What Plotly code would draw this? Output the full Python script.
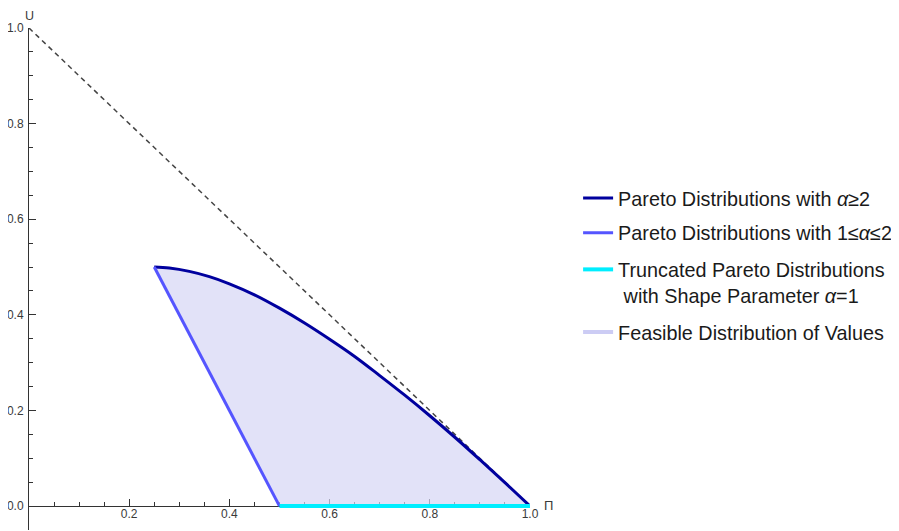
import plotly.graph_objects as go

# Pareto distributions with alpha >= 2
pareto_hi_x = [0.25, 0.28, 0.32, 0.36, 0.40, 0.45, 0.50, 0.55, 0.60, 0.65, 0.70, 0.75, 0.80, 0.85, 0.90, 0.95, 1.0]
pareto_hi_y = [0.500, 0.498, 0.491, 0.480, 0.465, 0.442, 0.414, 0.383, 0.349, 0.313, 0.273, 0.232, 0.189, 0.144, 0.097, 0.049, 0.0]

# Pareto distributions with 1 <= alpha <= 2
pareto_lo_x = [0.25, 0.5]
pareto_lo_y = [0.5, 0.0]

# Truncated Pareto, alpha = 1
trunc_x = [0.5, 1.0]
trunc_y = [0.0, 0.0]

# Upper bound (dashed)
bound_x = [0.0, 1.0]
bound_y = [1.0, 0.0]

x_ticks = [0.2, 0.4, 0.6, 0.8, 1.0]
x_tick_labels = ["0.2", "0.4", "0.6", "0.8", "1.0"]
y_ticks = [0.0, 0.2, 0.4, 0.6, 0.8, 1.0]
y_tick_labels = ["0.0", "0.2", "0.4", "0.6", "0.8", "1.0"]
x_minor = [0.05, 0.1, 0.15, 0.25, 0.3, 0.35, 0.45, 0.5, 0.55, 0.65, 0.7, 0.75, 0.85, 0.9, 0.95]
y_minor = [0.05, 0.1, 0.15, 0.25, 0.3, 0.35, 0.45, 0.5, 0.55, 0.65, 0.7, 0.75, 0.85, 0.9, 0.95]

legend_names = [
    "Pareto Distributions with <i>α</i>≥2",
    "Pareto Distributions with 1≤<i>α</i>≤2",
    "Truncated Pareto Distributions<br> with Shape Parameter <i>α</i>=1",
    "Feasible Distribution of Values",
]

DARK = "#00009e"
MID = "#5555ff"
CYAN = "#00eeff"
FILL = "rgba(214,214,245,0.7)"
LAV = "#ccccf4"

fig = go.Figure()

# feasible region
reg_x = pareto_hi_x + trunc_x[::-1] + [pareto_lo_x[0]]
reg_y = pareto_hi_y + trunc_y[::-1] + [pareto_lo_y[0]]
fig.add_trace(go.Scatter(x=reg_x, y=reg_y, mode="lines", fill="toself",
                         fillcolor=FILL, line=dict(width=0, color=FILL, shape="linear"),
                         showlegend=False, hoverinfo="skip"))

fig.add_trace(go.Scatter(x=bound_x, y=bound_y, mode="lines",
                         line=dict(color="#444444", width=1.5, dash="5px,4px"),
                         showlegend=False))

fig.add_trace(go.Scatter(x=pareto_hi_x, y=pareto_hi_y, mode="lines", line_shape="spline",
                         line=dict(color=DARK, width=3), legend="legend",
                         name=legend_names[0]))
fig.add_trace(go.Scatter(x=pareto_lo_x, y=pareto_lo_y, mode="lines",
                         line=dict(color=MID, width=3), legend="legend2",
                         name=legend_names[1]))
fig.add_trace(go.Scatter(x=trunc_x, y=trunc_y, mode="lines",
                         line=dict(color=CYAN, width=4), legend="legend3",
                         name=legend_names[2]))
fig.add_trace(go.Scatter(x=[None], y=[None], mode="lines",
                         line=dict(color=LAV, width=4), legend="legend4",
                         name=legend_names[3]))

ymin = -0.05
tickfont = dict(size=12, color="#3a3a3a")
LEG_X = 1.096
legfont = dict(size=19.8, color="#1a1a1a")


def leg(yc):
    return dict(x=LEG_X, xanchor="left", y=yc, yanchor="middle", font=legfont,
                bgcolor="rgba(0,0,0,0)", valign="top")


fig.update_layout(
    width=891, height=523,
    margin=dict(l=21, r=369, t=20, b=1, autoexpand=False),
    plot_bgcolor="white", paper_bgcolor="white",
    font=dict(family="Liberation Sans, Arial, sans-serif", color="#3a3a3a", size=12),
    xaxis=dict(range=[0, 1.0], anchor="free", position=(0 - ymin) / (1.0 - ymin),
               automargin=False,
               showgrid=False, zeroline=False, showline=True, linecolor="#333333", linewidth=1,
               tickmode="array", tickvals=x_ticks, ticktext=x_tick_labels,
               ticks="inside", ticklen=7, tickcolor="#333333", tickwidth=1,
               ticklabelstandoff=-3,
               minor=dict(tickmode="array", tickvals=x_minor, ticks="inside", ticklen=4,
                          tickcolor="#333333", showgrid=False),
               tickfont=tickfont, layer="below traces", fixedrange=True),
    yaxis=dict(range=[ymin, 1.0], automargin=False,
               showgrid=False, zeroline=False, showline=True,
               linecolor="#333333", linewidth=1,
               tickmode="array", tickvals=y_ticks, ticktext=y_tick_labels,
               ticks="inside", ticklen=7, tickcolor="#333333", tickwidth=1,
               ticklabelstandoff=2,
               minor=dict(tickmode="array", tickvals=y_minor, ticks="inside", ticklen=4,
                          tickcolor="#333333", showgrid=False),
               tickfont=tickfont, layer="below traces", fixedrange=True),
    legend=leg(0.661),
    legend2=leg(0.592),
    legend3=leg(0.493),
    legend4=leg(0.394),
    annotations=[
        dict(text="U", x=0, y=1.0, xref="x", yref="paper", xanchor="center", yanchor="middle",
             showarrow=False, yshift=12, font=dict(size=12.5, color="#3a3a3a")),
        dict(text="Π", x=1.0, y=0, xref="x", yref="y", xanchor="left", yanchor="middle",
             showarrow=False, xshift=12, yshift=1, font=dict(size=13, color="#3a3a3a")),
    ],
)

fig.write_html("out.html")
